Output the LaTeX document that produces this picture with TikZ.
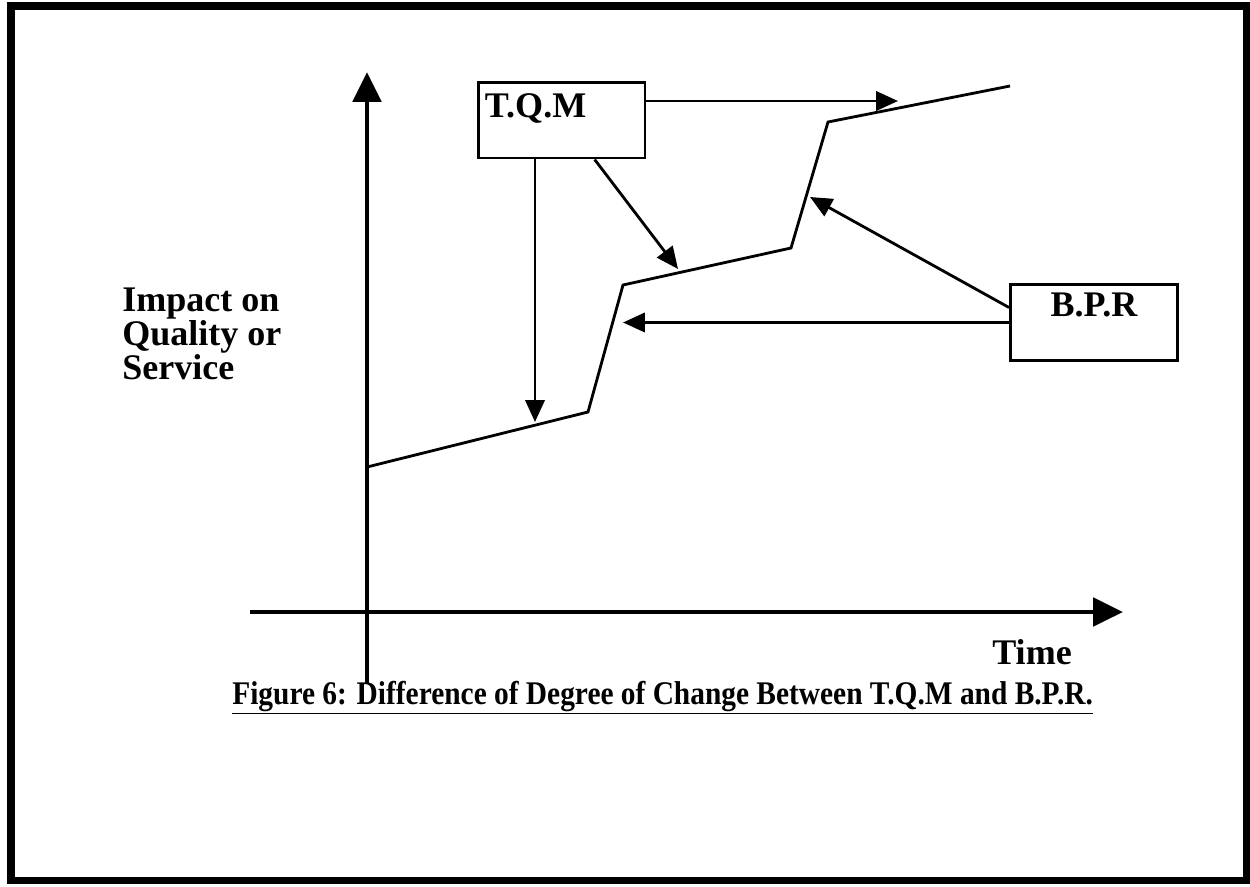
\documentclass[tikz,border=0pt]{standalone}
\usepackage{fontspec}
\setmainfont{Liberation Serif}
\newfontfamily\capfont[FakeStretch=0.89]{Liberation Serif}
\usetikzlibrary{arrows.meta}
\tikzset{box/.style={draw, line width=1.7pt, minimum width=3.34cm, minimum height=1.52cm, inner sep=0pt},
%thin arrows from the boxes
pointer/.style={line width=1.6pt, -{Triangle[width=11pt,length=12.5pt]}},
axis/.style={line width=2.8pt, -{Triangle[width=16pt,length=17pt]}},
lbl/.style={font=\bfseries\fontsize{20.5}{19.3}\selectfont, inner sep=0pt}}

\begin{document}
\begin{tikzpicture}[x=0.02cm,y=-0.02cm]
\useasboundingbox (0,0) rectangle (1250,886);
\draw [line width=4pt] (11,6) rectangle (1246,880);

% axes
\coordinate (ybot) at (367,684);
\coordinate (ytop) at (367,72);
\coordinate (xleft) at (250,612);
\coordinate (xright) at (1123,612);
\draw [axis] (ybot) -- (ytop);
\draw [axis] (xleft) -- (xright);

% steps
\coordinate (c0) at (367,467);
\coordinate (c1) at (588,412);
\coordinate (c2) at (623,285);
\coordinate (c3) at (791,248);
\coordinate (c4) at (828,122);
\coordinate (c5) at (1010,86);
\draw [line width=1.6pt] (c0) -- (c1) -- (c2) -- (c3) -- (c4) -- (c5);

%boxes
\node [box, label={[lbl,name=tqmtext,anchor=north west,xshift=0.16cm,yshift=-0.26cm]north west:T.Q.M}] (tqm) at (561.5,120) {};
\node [box, label={[lbl,name=bprtext,anchor=north,yshift=-0.2cm]north:B.P.R}] (bpr) at (1094,322.5) {};

\coordinate (ta) at (898,101);
\coordinate (tb) at (678,269);
\coordinate (tc) at (535,422);
\coordinate (ba) at (623,321);
\coordinate (bb) at (810,197);
\draw [pointer] (tqm.east |- ta) -- (ta);
\draw [pointer] (tqm.-50) -- (tb);
\draw [pointer] (tqm.south -| tc) -- (tc);
\draw [pointer] (bpr.west) -- (bpr.west -| ba);
\draw [pointer] (bpr.170) -- (bb);

%labels
\node [lbl, anchor=north west, align=left] (impact) at (122,288) {Impact on\\Quality or\\Service};
\node [lbl, anchor=north west] (time) at (992,639) {Time};
\node [anchor=base west, inner sep=0pt, font=\capfont\bfseries\fontsize{18.8}{22}\selectfont] (caption) at (232,704) {\underline{Figure 6: Difference of Degree of Change Between T.Q.M and B.P.R.}};

\end{tikzpicture}
\end{document}
